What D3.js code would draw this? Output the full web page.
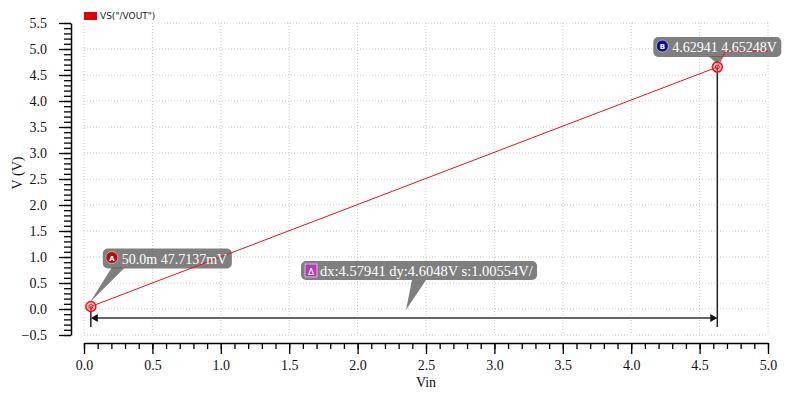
<!DOCTYPE html>
<html><head><meta charset="utf-8">
<script src="https://cdn.jsdelivr.net/npm/d3@7"></script>
<style>body{margin:0;background:#fff}svg{display:block}</style>
</head><body>
<svg id="c" width="800" height="400"></svg>
<script>
// data
const vin  = [0.05, 4.62941, 4.69, 5.0];
const vout = [0.0477137, 4.65248, 4.96, 4.96];
const seriesName = 'VS("/VOUT")';
const xTicks = [0,0.5,1,1.5,2,2.5,3,3.5,4,4.5,5];
const yTicks = [-0.5,0,0.5,1,1.5,2,2.5,3,3.5,4,4.5,5,5.5];
const markerA = {x:0.05, y:0.0477137, label:"50.0m 47.7137mV"};
const markerB = {x:4.62941, y:4.65248, label:"4.62941 4.65248V"};
const deltaLabel = "dx:4.57941 dy:4.6048V s:1.00554V/";

const svg = d3.select("#c");
const x = d3.scaleLinear().domain([0,5]).range([84,768]);
const y = d3.scaleLinear().domain([-0.5,5.5]).range([335,23]);
const serif = "'Liberation Serif', 'Times New Roman', serif";

// grid
const g = svg.append("g");
g.selectAll(".vg").data(xTicks).join("line")
  .attr("x1",d=>x(d)).attr("x2",d=>x(d)).attr("y1",y(5.5)).attr("y2",y(-0.5))
  .attr("stroke","#c8c8c8").attr("stroke-dasharray","1,2");
g.selectAll(".hg").data(yTicks).join("line")
  .attr("x1",d=> d===5.5 ? 158 : x(0)).attr("x2",x(5)).attr("y1",d=>y(d)).attr("y2",d=>y(d))
  .attr("stroke","#c8c8c8").attr("stroke-dasharray","1,2");

// axes
const minorY = d3.range(-5,56,1).map(v=>v/10);
const minorX = d3.range(0,51,1).map(v=>v/10);
const yAxG = svg.append("g").attr("transform","translate(71,0)");
yAxG.call(d3.axisLeft(y).tickValues(minorY).tickSize(7).tickSizeOuter(0).tickFormat(""));
yAxG.append("g").call(d3.axisLeft(y).tickValues(yTicks).tickSize(12).tickSizeOuter(0).tickFormat(d3.format(".1f")).tickPadding(12))
  .call(s=>s.select(".domain").remove());
const xAxG = svg.append("g").attr("transform","translate(0,343)");
xAxG.call(d3.axisBottom(x).tickValues(minorX).tickSize(6).tickSizeOuter(0).tickFormat(""));
xAxG.append("g").call(d3.axisBottom(x).tickValues(xTicks).tickSize(11).tickSizeOuter(0).tickFormat(d3.format(".1f")).tickPadding(6))
  .call(s=>s.select(".domain").remove());
svg.selectAll(".tick line").attr("stroke","#000").attr("stroke-width",1.3);
svg.selectAll(".domain").attr("stroke","#000").attr("stroke-width",1.5);
svg.selectAll(".tick text").attr("font-family",serif).attr("font-size",14).attr("fill","#111");

// axis titles
svg.append("text").attr("x",(x(0)+x(5))/2).attr("y",387).attr("text-anchor","middle")
  .attr("font-family",serif).attr("font-size",14).attr("fill","#111").text("Vin");
svg.append("text").attr("transform","translate(22,173) rotate(-90)").attr("text-anchor","middle")
  .attr("font-family",serif).attr("font-size",14).attr("fill","#111").text("V (V)");

// legend
svg.append("rect").attr("x",84).attr("y",12).attr("width",13).attr("height",8).attr("fill","#e00000");
svg.append("text").attr("x",100).attr("y",19).attr("font-family","'DejaVu Sans', sans-serif")
  .attr("font-size",9).attr("fill","#222").text(seriesName);

// delta lines
const ax = x(markerA.x), ay = y(markerA.y), bx = x(markerB.x), by = y(markerB.y);
const arrowY = 318;
svg.append("line").attr("x1",ax).attr("x2",ax).attr("y1",ay).attr("y2",327).attr("stroke","#222").attr("stroke-width",1.5);
svg.append("line").attr("x1",bx).attr("x2",bx).attr("y1",by).attr("y2",327).attr("stroke","#222").attr("stroke-width",1.5);
svg.append("line").attr("x1",ax+6).attr("x2",bx-6).attr("y1",arrowY).attr("y2",arrowY).attr("stroke","#666").attr("stroke-width",2);
svg.append("path").attr("d",`M${ax},${arrowY}L${ax+7},${arrowY-4}L${ax+7},${arrowY+4}Z`).attr("fill","#111");
svg.append("path").attr("d",`M${bx},${arrowY}L${bx-7},${arrowY-4}L${bx-7},${arrowY+4}Z`).attr("fill","#111");

// label backgrounds
const lblFill = "rgba(95,95,95,0.8)";
const bgLayer = svg.append("g");
const traceLayer = svg.append("g");
const fgLayer = svg.append("g");

// trace (drawn over label backgrounds, shows through them)
const pts = vin.map((v,i)=>[v,vout[i]]);
traceLayer.append("path").datum(pts).attr("fill","none").attr("stroke","#e8141a").attr("stroke-width",1)
  .attr("d",d3.line().x(d=>x(d[0])).y(d=>y(d[1])));

function callout(rx,ry,rw,rh,tri,txt,fs,badge){
  bgLayer.append("path").attr("d",`M${tri[0][0]},${tri[0][1]}L${tri[1][0]},${tri[1][1]}L${tri[2][0]},${tri[2][1]}Z`).attr("fill",lblFill);
  bgLayer.append("rect").attr("x",rx).attr("y",ry).attr("width",rw).attr("height",rh).attr("rx",5).attr("fill",lblFill);
  badge(rx,ry,rh);
  fgLayer.append("text").attr("x",rx+19).attr("y",ry+rh/2+5).attr("font-family",serif).attr("font-size",fs)
    .attr("fill","#fff").text(txt);
}
function circBadge(color,letter){
  return (rx,ry,rh)=>{
    fgLayer.append("circle").attr("cx",rx+9).attr("cy",ry+rh/2-1).attr("r",6).attr("fill",color).attr("stroke","#fff").attr("stroke-width",0.5);
    fgLayer.append("text").attr("x",rx+9).attr("y",ry+rh/2+2).attr("text-anchor","middle").attr("font-family","'DejaVu Sans', sans-serif")
      .attr("font-weight","bold").attr("font-size",7).attr("fill","#fff").text(letter);
  };
}
callout(ax+12, ay-58, 129, 20, [[ax+21,ay-39],[ax+34,ay-39],[ax-1,ay-4]], markerA.label, 14, circBadge("#b01010","A"));
callout(bx-64, by-30, 128, 20, [[bx-9,by-11],[bx+6,by-11],[bx,by-3]], markerB.label, 14, circBadge("#10108f","B"));
callout(301, 261, 236, 19, [[412,280],[426,280],[406,310]], deltaLabel, 14.5, (rx,ry,rh)=>{
  fgLayer.append("rect").attr("x",rx+4).attr("y",ry+3).attr("width",12).attr("height",13).attr("fill","#b040b0").attr("stroke","#e8b0e8").attr("stroke-width",1);
  fgLayer.append("text").attr("x",rx+10).attr("y",ry+14).attr("text-anchor","middle").attr("font-family","'DejaVu Sans', sans-serif")
    .attr("font-size",9).attr("fill","#fff").text("Δ");
});

// markers
[markerA, markerB].forEach(m=>{
  fgLayer.append("circle").attr("cx",x(m.x)).attr("cy",y(m.y)).attr("r",5).attr("fill","rgba(255,120,120,0.5)").attr("stroke","#e8141a").attr("stroke-width",1.5);
  fgLayer.append("circle").attr("cx",x(m.x)).attr("cy",y(m.y)).attr("r",2).attr("fill","none").attr("stroke","#e8141a").attr("stroke-width",1);
});
</script>
</body></html>
